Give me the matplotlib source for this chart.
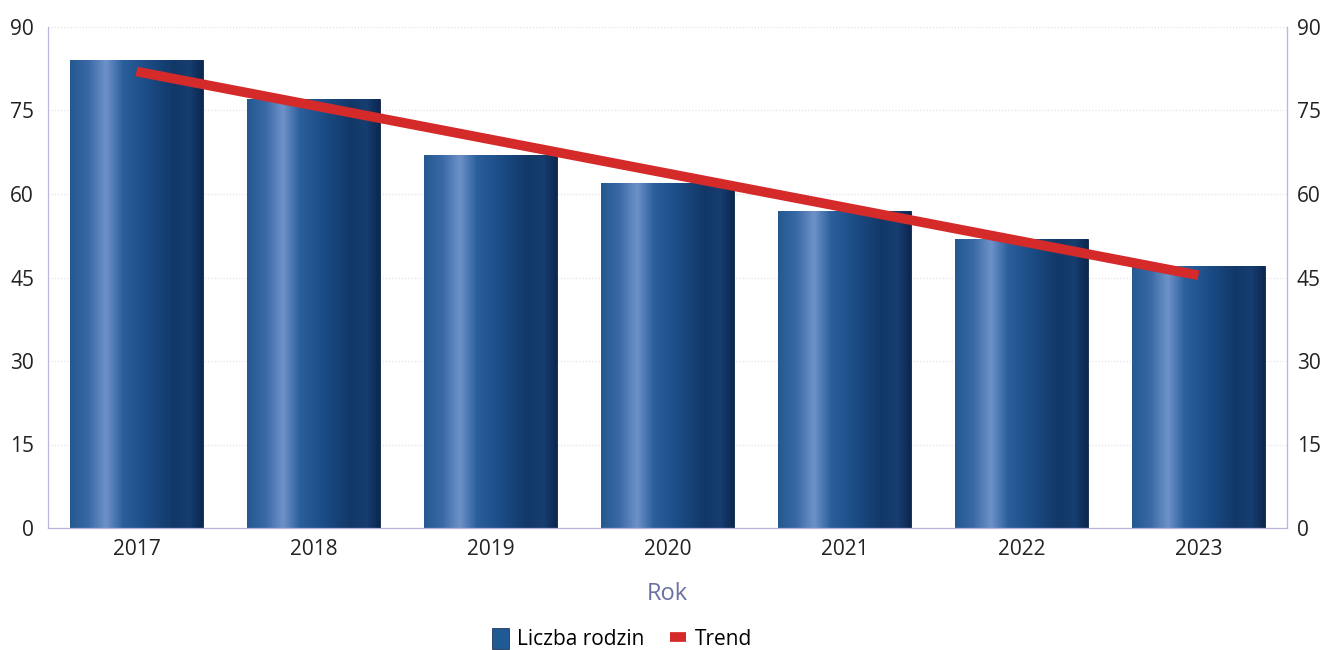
from matplotlib import pyplot as plt
from matplotlib.patches import Patch
from matplotlib.lines import Line2D
from matplotlib.colors import LinearSegmentedColormap
import numpy as np

plt.rcParams['font.family'] = ['Open Sans', 'DejaVu Sans']

years = ['2017', '2018', '2019', '2020', '2021', '2022', '2023']
families = [84, 77, 67, 62, 57, 52, 47]
trend = [82.0, 75.9, 69.8, 63.7, 57.6, 51.5, 45.4]
yticks = [0, 15, 30, 45, 60, 75, 90]

# cylinder-like shading across each bar
shade = LinearSegmentedColormap.from_list('cyl', [
    (0.0, '#235890'), (0.14, '#3a6aa6'), (0.27, '#6e92c8'),
    (0.4, '#2a5f9c'), (0.6, '#1a4a82'), (0.78, '#123868'),
    (0.9, '#163e70'), (1.0, '#0c2750')])
grad = np.linspace(0, 1, 256).reshape(1, -1)

fig = plt.figure(figsize=(13.27, 6.5), dpi=100)
ax = fig.add_axes([48/1327, 122/650, 1239/1327, 501/650])
x = np.arange(len(years))

bars = ax.bar(x, families, width=0.75, color='#1f5a94', edgecolor='#0b1f40',
              linewidth=0.6, zorder=2)
for b in bars:
    im = ax.imshow(grad, cmap=shade, aspect='auto', zorder=2.5,
                   extent=[b.get_x(), b.get_x() + b.get_width(), 0, b.get_height()])
    im.set_clip_path(b)

ax.plot(x, trend, color='#d42a2a', linewidth=7, solid_capstyle='butt', zorder=3)

ax.set_xlim(-0.5, len(years) - 0.5)
ax.set_ylim(0, 90)
ax.set_yticks(yticks)
ax.set_xticks(x)
ax.set_xticklabels(years)
ax.grid(axis='y', color='#e2e2ee', linestyle=(0, (1, 1.5)), linewidth=0.9, zorder=0)
ax.set_axisbelow(True)

spine_col = '#b8b8dc'
ax.spines['top'].set_visible(False)
for s in ['left', 'right', 'bottom']:
    ax.spines[s].set_color(spine_col)
    ax.spines[s].set_linewidth(0.9)
ax.tick_params(axis='both', length=0, labelsize=15, colors='#222222')
ax.tick_params(axis='y', pad=10)
ax.tick_params(axis='x', pad=8)

ax2 = ax.twinx()
ax2.set_ylim(0, 90)
ax2.set_yticks(yticks)
ax2.tick_params(axis='y', length=0, labelsize=15, colors='#222222', pad=7)
for s in ['top', 'left', 'bottom']:
    ax2.spines[s].set_visible(False)
ax2.spines['right'].set_color(spine_col)

ax.set_xlabel('Rok', fontsize=17, color='#6b70a2', labelpad=16)

handles = [Patch(facecolor='#1f5a94', edgecolor='#0b1f40', linewidth=0.5),
           Line2D([], [], color='#d42a2a', linewidth=7, solid_capstyle='butt')]
fig.legend(handles, ['Liczba rodzin', 'Trend'], loc='center', ncol=2,
           bbox_to_anchor=(622/1327, 1 - 639/650), frameon=False, fontsize=15,
           handlelength=0.8, handleheight=1.2, handletextpad=0.4, columnspacing=1.2)

fig.savefig('out.png', dpi=100)
